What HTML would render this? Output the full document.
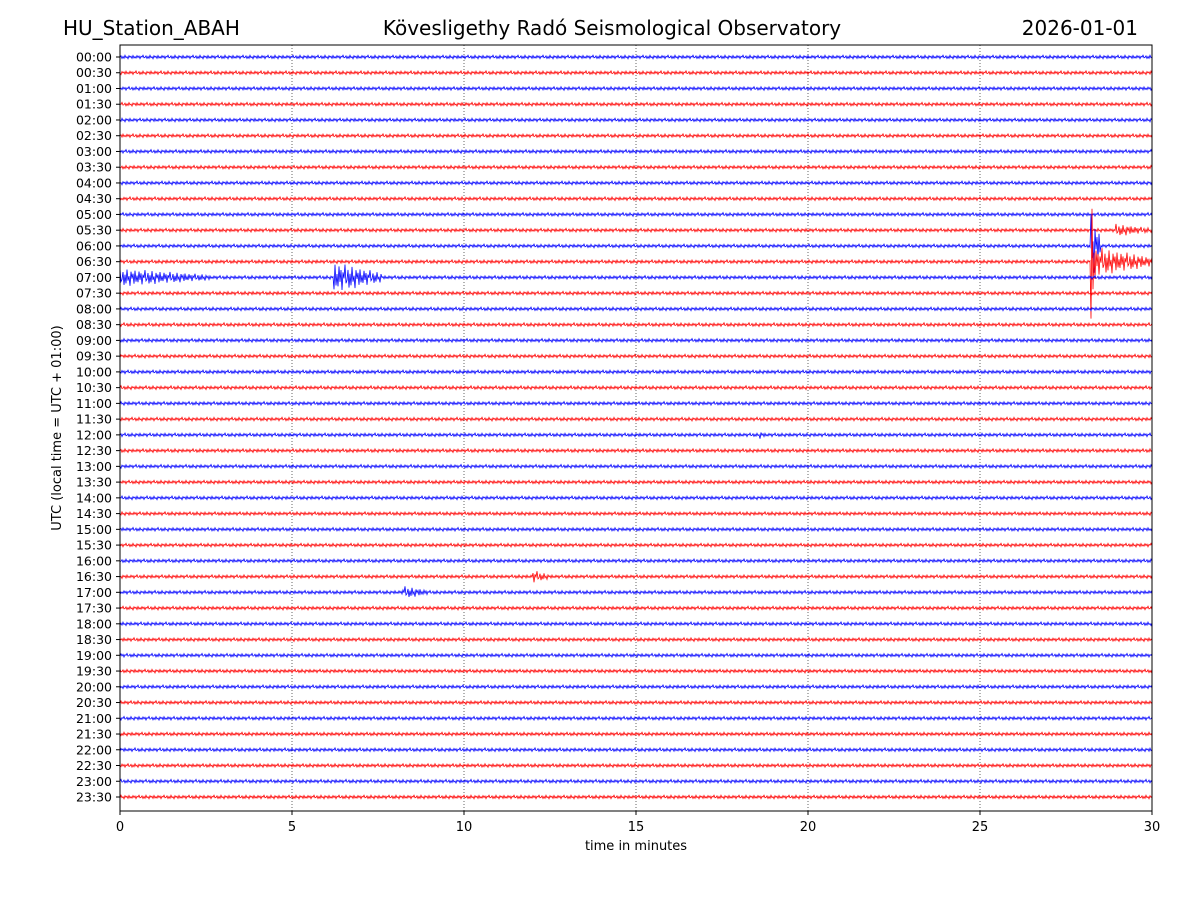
<!DOCTYPE html>
<html><head><meta charset="utf-8"><style>
body{margin:0;background:#fff;}
svg text{font-family:"DejaVu Sans","Liberation Sans",sans-serif;fill:#000;}
</style></head><body>
<svg id="c" width="1200" height="900" xmlns="http://www.w3.org/2000/svg">
<rect width="1200" height="900" fill="#fff"/>
<text x="63" y="35" font-size="20">HU_Station_ABAH</text>
<text x="612" y="35" font-size="20" text-anchor="middle">Kövesligethy Radó Seismological Observatory</text>
<text x="1138" y="35" font-size="20" text-anchor="end">2026-01-01</text>
<g id="grid"></g><g id="traces"></g><g id="axes"></g>
<text x="636" y="850" font-size="13" text-anchor="middle">time in minutes</text>
<text transform="translate(61,428) rotate(-90)" font-size="13" text-anchor="middle">UTC (local time = UTC + 01:00)</text>
<rect x="120" y="45" width="1032" height="766" fill="none" stroke="#000" stroke-width="1"/>
</svg>
<script>
const xTicks=[0,5,10,15,20,25,30];
const rowLabels=[];for(let h=0;h<24;h++){const hh=String(h).padStart(2,'0');rowLabels.push(hh+':00',hh+':30');}
const noisePattern=[0.3,-0.8,1.1,-0.4,0.9,-1.2,0.5,-0.2,1.3,-0.9,0.2,-0.6,1.0,-1.1,0.7,-0.3,0.8,-1.0,0.4,-0.7,1.2,-0.5,0.1,-1.3,0.6];
// events: row index, start minute, end minute, peak amplitude (px)
const eventRows=[14,14,11,13,13,12,33,34,24];
const eventStart=[0,6.2,28.9,28.2,28.2,28.2,12.0,8.2,18.6];
const eventEnd=[2.6,7.6,30,30,28.35,28.5,12.5,9.0,18.8];
const eventAmp=[7,12,5,12,65,28,5,5,3];
const X0=120,X1=1152,Y0=57,DY=(797-57)/47;
const xs=m=>X0+(m/30)*(X1-X0);
const ys=i=>Y0+i*DY;
const NS='http://www.w3.org/2000/svg';
const grid=document.getElementById('grid'),tr=document.getElementById('traces'),ax=document.getElementById('axes');
xTicks.forEach(t=>{
 if(t>0&&t<30){const l=document.createElementNS(NS,'line');
 l.setAttribute('x1',xs(t));l.setAttribute('x2',xs(t));l.setAttribute('y1',45);l.setAttribute('y2',811);
 l.setAttribute('stroke','#000');l.setAttribute('stroke-width','0.6');l.setAttribute('stroke-dasharray','1,2');
 
 grid.appendChild(l);}
 const k=document.createElementNS(NS,'line');
 k.setAttribute('x1',xs(t));k.setAttribute('x2',xs(t));k.setAttribute('y1',811);k.setAttribute('y2',815);k.setAttribute('stroke','#000');
 
 ax.appendChild(k);
 const tx=document.createElementNS(NS,'text');tx.setAttribute('x',xs(t));tx.setAttribute('y',831);tx.setAttribute('font-size','13');tx.setAttribute('text-anchor','middle');tx.textContent=t;
 
 ax.appendChild(tx);
});
rowLabels.forEach((lab,i)=>{
 const y=ys(i);
 const k=document.createElementNS(NS,'line');k.setAttribute('x1',116);k.setAttribute('x2',120);k.setAttribute('y1',y);k.setAttribute('y2',y);k.setAttribute('stroke','#000');
 
 ax.appendChild(k);
 const tx=document.createElementNS(NS,'text');tx.setAttribute('x',112);tx.setAttribute('y',y+4.5);tx.setAttribute('font-size','12.5');tx.setAttribute('text-anchor','end');tx.textContent=lab;
 
 ax.appendChild(tx);
 let d='';const N=1032;
 for(let s=0;s<=N;s+=1){
  const m=s/N*30;let a=1.4;
  eventRows.forEach((r,e)=>{if(r===i&&m>=eventStart[e]&&m<=eventEnd[e]){const f=(m-eventStart[e])/(eventEnd[e]-eventStart[e]);a=Math.max(a,eventAmp[e]*(1-0.7*f));}});
  const p=noisePattern[Math.floor(s+i*7)%noisePattern.length];
  d+=(s===0?'M':'L')+(X0+s).toFixed(1)+','+(y+p*a).toFixed(1);
 }
 const pth=document.createElementNS(NS,'path');pth.setAttribute('d',d);pth.setAttribute('fill','none');
 pth.setAttribute('stroke',i%2===0?'#0000ff':'#ff0000');pth.setAttribute('stroke-width','0.8');
 
 tr.appendChild(pth);
});
</script>
</body></html>
